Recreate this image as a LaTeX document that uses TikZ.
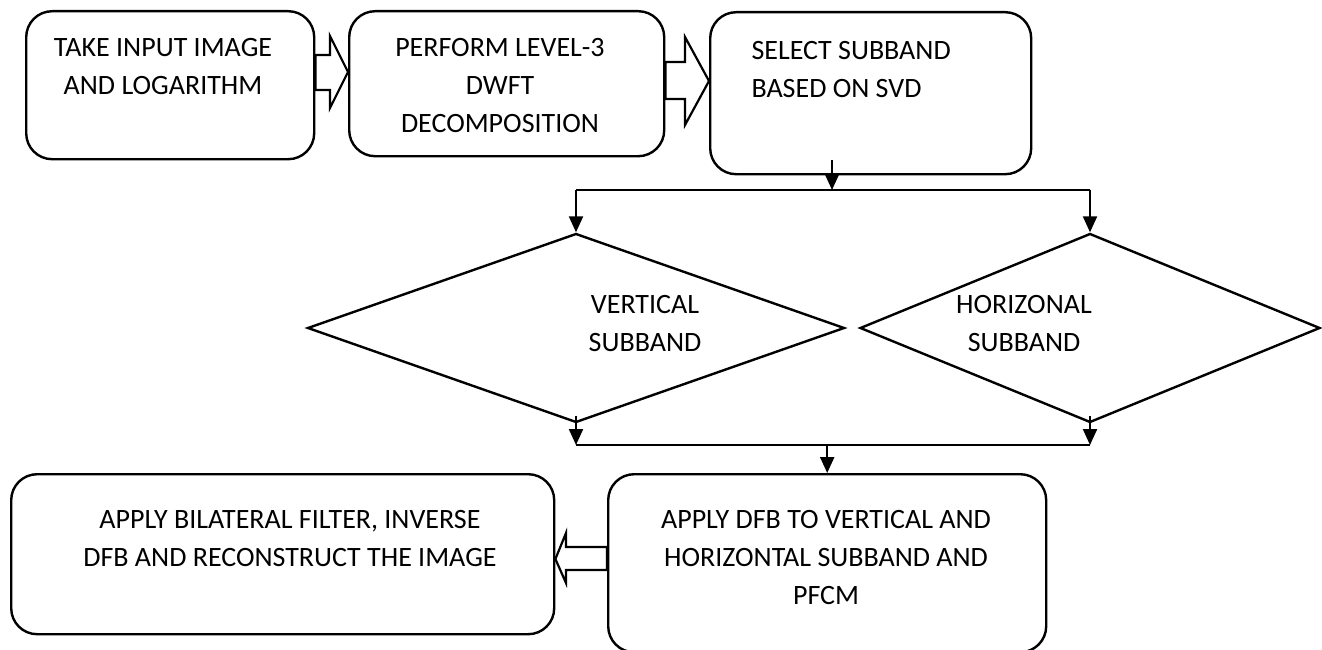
\documentclass[tikz,border=0pt]{standalone}
\usepackage{fontspec}
\setmainfont{Carlito}
\usetikzlibrary{shapes.geometric,arrows.meta,calc}

\begin{document}
\begin{tikzpicture}[x=1pt,y=-1pt,
    box/.style={draw, rounded corners=26pt, line width=2.4pt, inner sep=0pt, anchor=north west},
    dia/.style={draw, diamond, line width=2.4pt, inner sep=0pt},
    txt/.style={align=center, font=\fontsize{28}{38}\selectfont},
    hollow/.style={draw, line width=2.2pt, fill=white, line join=miter},
    flow/.style={-{Triangle[length=16pt,width=14pt]}, line width=2.2pt},
    bus/.style={line width=1.4pt}]

    \useasboundingbox (0,0) rectangle (1322,650);

    % Top row of process boxes
    \node[box, minimum width=288, minimum height=148] (input) at (25,10) {};
    \node[txt] (input-t) at (163,67) {TAKE INPUT IMAGE\\AND LOGARITHM};

    \node[box, minimum width=315, minimum height=145] (perform) at (348,10) {};
    \node[txt] (perform-t) at (500,86) {PERFORM LEVEL-3\\DWFT\\DECOMPOSITION};

    \node[box, minimum width=321, minimum height=162] (select) at (709,11) {};
    \node[txt, align=left, anchor=west] (select-t) at (748,70) {SELECT SUBBAND\\BASED ON SVD};

    % Hollow block arrows between the top boxes
    \draw[hollow] (input.east |- 0,55) -- (330,55) -- (330,36) -- (perform.west |- 0,72)
        -- (330,108) -- (330,90) -- (input.east |- 0,90) -- cycle;
    \draw[hollow] (perform.east |- 0,62) -- (685,62) -- (685,37) -- (select.west |- 0,81)
        -- (685,125) -- (685,99) -- (perform.east |- 0,99) -- cycle;

    % The two subbands
    \node[dia, minimum width=537, minimum height=189] (vert) at (576,328) {};
    \node[txt] (vert-t) at (645,324) {VERTICAL\\SUBBAND};

    \node[dia, minimum width=460, minimum height=189] (horiz) at (1090,328) {};
    \node[txt] (horiz-t) at (1024,324) {HORIZONAL\\SUBBAND};

    % Split from the selection box
    \coordinate (split) at (832,190);
    \draw[flow] ($(split |- select.south)+(0,-15)$) -- (split);
    \draw[bus] (vert.north |- split) -- (horiz.north |- split);
    \draw[flow] (vert.north |- split) -- (vert.north);
    \draw[flow] (horiz.north |- split) -- (horiz.north);

    % Bottom row
    \node[box, minimum width=543, minimum height=160] (filter) at (10,473) {};
    \node[txt] (filter-t) at (290,539) {APPLY BILATERAL FILTER, INVERSE\\DFB AND RECONSTRUCT THE IMAGE};

    \node[box, minimum width=438, minimum height=178] (apply) at (607,473) {};
    \node[txt] (apply-t) at (826,558) {APPLY DFB TO VERTICAL AND\\HORIZONTAL SUBBAND AND\\PFCM};

    % Merge of both subbands
    \coordinate (merge) at (apply.north |- 0,445);
    \draw[flow] ($(vert.south)+(0,-8)$) -- (vert.south |- merge);
    \draw[flow] ($(horiz.south)+(0,-8)$) -- (horiz.south |- merge);
    \draw[bus] (vert.south |- merge) -- (horiz.south |- merge);
    \draw[flow] (merge) -- (apply.north);

    % Hollow arrow back to the left box
    \draw[hollow] (apply.west |- 0,547) -- (566,547) -- (566,533) -- (filter.east |- 0,559)
        -- (566,583) -- (566,570) -- (apply.west |- 0,570) -- cycle;

\end{tikzpicture}
\end{document}
